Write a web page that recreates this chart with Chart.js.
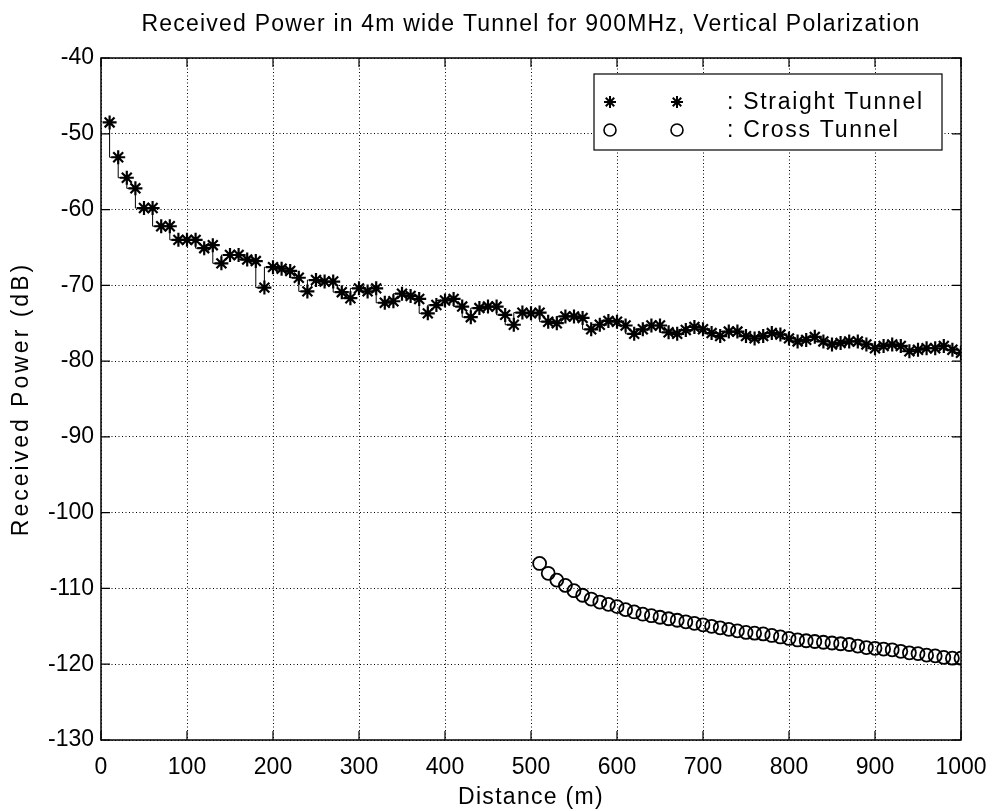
<!DOCTYPE html>
<html>
<head>
<meta charset="utf-8">
<script src="https://cdn.jsdelivr.net/npm/chart.js@4.4.1/dist/chart.umd.min.js"></script>
<style>
html,body{margin:0;padding:0;background:#fff;}
#wrap{width:993px;height:811px;position:relative;}
</style>
</head>
<body>
<div id="wrap"><canvas id="c" width="993" height="811"></canvas></div>
<script>
const chartTitle = "Received Power in 4m wide Tunnel for 900MHz, Vertical Polarization";
const xTitle = "Distance (m)";
const yTitle = "Received Power (dB)";
const seriesNames = ["Straight Tunnel", "Cross Tunnel"];

const straightDist = [10,20,30,40,50,60,70,80,90,100,110,120,130,140,150,160,170,180,190,200,
  210,220,230,240,250,260,270,280,290,300,310,320,330,340,350,360,370,380,390,400,
  410,420,430,440,450,460,470,480,490,500,510,520,530,540,550,560,570,580,590,600,
  610,620,630,640,650,660,670,680,690,700,710,720,730,740,750,760,770,780,790,800,
  810,820,830,840,850,860,870,880,890,900,910,920,930,940,950,960,970,980,990,1000];
const straightPower = [-48.5,-53.1,-55.8,-57.2,-59.8,-59.8,-62.2,-62.2,-64.0,-64.0,
  -64.0,-65.1,-64.7,-67.1,-66.0,-66.0,-66.6,-66.8,-70.3,-67.6,
  -67.8,-68.1,-69.0,-70.8,-69.3,-69.5,-69.5,-70.9,-71.7,-70.4,
  -70.8,-70.4,-72.3,-72.1,-71.1,-71.4,-71.8,-73.7,-72.6,-72.0,
  -71.8,-72.8,-74.2,-73.0,-72.8,-72.8,-73.9,-75.2,-73.6,-73.7,
  -73.6,-74.8,-75.0,-74.1,-74.1,-74.3,-75.8,-75.2,-74.7,-74.8,
  -75.3,-76.4,-75.8,-75.3,-75.3,-76.2,-76.4,-75.9,-75.5,-75.8,
  -76.3,-76.7,-76.1,-76.1,-76.7,-77.0,-76.7,-76.3,-76.5,-77.0,
  -77.4,-77.2,-76.8,-77.4,-77.8,-77.6,-77.4,-77.4,-77.8,-78.3,
  -78.0,-77.8,-78.0,-78.7,-78.5,-78.3,-78.3,-78.0,-78.5,-78.9];

const crossDist = [510,520,530,540,550,560,570,580,590,600,610,620,630,640,650,660,670,680,690,700,
  710,720,730,740,750,760,770,780,790,800,810,820,830,840,850,860,870,880,890,900,
  910,920,930,940,950,960,970,980,990,1000];
const crossPower = [-106.7,-108.0,-108.9,-109.6,-110.3,-110.9,-111.4,-111.8,-112.1,-112.4,
  -112.8,-113.1,-113.4,-113.6,-113.8,-114.0,-114.2,-114.4,-114.6,-114.8,
  -115.0,-115.2,-115.4,-115.6,-115.8,-115.9,-116.0,-116.2,-116.4,-116.6,
  -116.8,-116.9,-117.0,-117.1,-117.2,-117.3,-117.4,-117.6,-117.8,-117.9,
  -118.0,-118.1,-118.3,-118.5,-118.6,-118.8,-118.9,-119.1,-119.2,-119.2];

const xMin = 0, xMax = 1000, xStep = 100;
const yMin = -130, yMax = -40, yStep = 10;

const FONT = "'Liberation Sans', Arial, Helvetica, sans-serif";

function toPts(xs, ys){ return xs.map((x,i)=>({x:x, y:ys[i]})); }

function wrapDraw(obj, method, spacing, shiftToPlotCenter){
  if (obj['_ls_' + method]) return;
  const orig = obj[method];
  obj[method] = function(){
    const c = this.ctx;
    c.save();
    c.letterSpacing = spacing;
    if (shiftToPlotCenter) {
      const ch = this.chart;
      const a = ch.chartArea;
      const dx = (a.left + a.right) / 2 - (this.left + this.right) / 2;
      c.translate(dx, 0);
    }
    const r = orig.apply(this, arguments);
    c.restore();
    return r;
  };
  obj['_ls_' + method] = true;
}

const spacingPlugin = {
  id: 'spacing',
  afterLayout(chart){
    if (chart.titleBlock) wrapDraw(chart.titleBlock, 'draw', '1.2px', true);
    if (chart.scales.x) wrapDraw(chart.scales.x, 'drawTitle', '1.3px', false);
    if (chart.scales.y) wrapDraw(chart.scales.y, 'drawTitle', '3px', false);
  }
};

const boxPlugin = {
  id: 'boxTicks',
  afterDraw(chart){
    const {ctx, chartArea:a, scales:{x, y}} = chart;
    ctx.save();
    ctx.strokeStyle = '#000';
    ctx.lineWidth = 1.5;
    ctx.strokeRect(a.left, a.top, a.right-a.left, a.bottom-a.top);
    ctx.lineWidth = 1.2;
    const L = 9;
    ctx.beginPath();
    x.ticks.forEach(t=>{
      const px = x.getPixelForValue(t.value);
      ctx.moveTo(px, a.bottom); ctx.lineTo(px, a.bottom-L);
      ctx.moveTo(px, a.top); ctx.lineTo(px, a.top+L);
    });
    y.ticks.forEach(t=>{
      const py = y.getPixelForValue(t.value);
      ctx.moveTo(a.left, py); ctx.lineTo(a.left+L, py);
      ctx.moveTo(a.right, py); ctx.lineTo(a.right-L, py);
    });
    ctx.stroke();

    // legend box
    const bx = 594, by = 74, bw = 348, bh = 76;
    ctx.fillStyle = '#fff';
    ctx.fillRect(bx, by, bw, bh);
    ctx.lineWidth = 1.2;
    ctx.strokeRect(bx, by, bw, bh);
    const rows = [
      {style:'star', y: by+28, text: ': ' + seriesNames[0], bw: 2},
      {style:'circle', y: by+56, text: ': ' + seriesNames[1], bw: 1.6}
    ];
    ctx.font = '23px ' + FONT;
    ctx.textBaseline = 'middle';
    ctx.textAlign = 'left';
    rows.forEach(r=>{
      ctx.strokeStyle = '#000';
      ctx.fillStyle = 'rgba(0,0,0,0)';
      ctx.lineWidth = r.bw;
      [bx+16, bx+83].forEach(cx=>{
        Chart.helpers.drawPoint(ctx, {pointStyle:r.style, radius:6, rotation:0, borderWidth:r.bw}, cx, r.y);
      });
      ctx.fillStyle = '#000';
      ctx.letterSpacing = '1.7px';
      ctx.fillText(r.text, bx+133, r.y + 1);
      ctx.letterSpacing = '0px';
    });
    ctx.restore();
  }
};

new Chart(document.getElementById('c'), {
  type: 'scatter',
  data: {
    datasets: [
      {
        label: seriesNames[0],
        data: toPts(straightDist, straightPower),
        showLine: true,
        stepped: 'after',
        borderColor: '#000',
        borderWidth: 1,
        pointStyle: 'star',
        pointRadius: 7,
        pointBorderWidth: 2.2,
        pointBorderColor: '#000',
        pointBackgroundColor: '#000'
      },
      {
        label: seriesNames[1],
        data: toPts(crossDist, crossPower),
        showLine: false,
        pointStyle: 'circle',
        pointRadius: 6.5,
        pointBorderWidth: 1.8,
        pointBorderColor: '#000',
        pointBackgroundColor: 'rgba(0,0,0,0)'
      }
    ]
  },
  options: {
    responsive: false,
    animation: false,
    layout: { padding: { left: 0, right: 32, top: 0, bottom: 0 } },
    plugins: {
      legend: { display: false },
      tooltip: { enabled: false },
      title: {
        display: true,
        text: chartTitle,
        color: '#000',
        font: { family: FONT, size: 23, weight: 'normal' },
        padding: { top: 11, bottom: 19.4 }
      }
    },
    scales: {
      x: {
        type: 'linear',
        min: xMin, max: xMax,
        border: { display: false, dash: [1, 2.5] },
        grid: { color: '#000', lineWidth: 1, drawTicks: false },
        ticks: { stepSize: xStep, color: '#000', font: { family: FONT, size: 23 }, padding: 14, maxRotation: 0,
                 callback: (v) => String(v) },
        title: { display: true, text: xTitle, color: '#000', font: { family: FONT, size: 23 }, padding: { top: 0, bottom: 0 } },
        afterFit(s){ s.height = 71; s.paddingRight = 0; s.paddingLeft = 0; }
      },
      y: {
        type: 'linear',
        min: yMin, max: yMax,
        border: { display: false, dash: [1, 2.5] },
        grid: { color: '#000', lineWidth: 1, drawTicks: false },
        ticks: { stepSize: yStep, color: '#000', font: { family: FONT, size: 23 }, padding: 7,
                 callback: (v) => String(v) },
        title: { display: true, text: yTitle, color: '#000', font: { family: FONT, size: 23 }, padding: { top: 8, bottom: 0 } },
        afterFit(s){ s.width = 101; s.paddingTop = 0; s.paddingBottom = 0; }
      }
    }
  },
  plugins: [spacingPlugin, boxPlugin]
});
</script>
</body>
</html>
